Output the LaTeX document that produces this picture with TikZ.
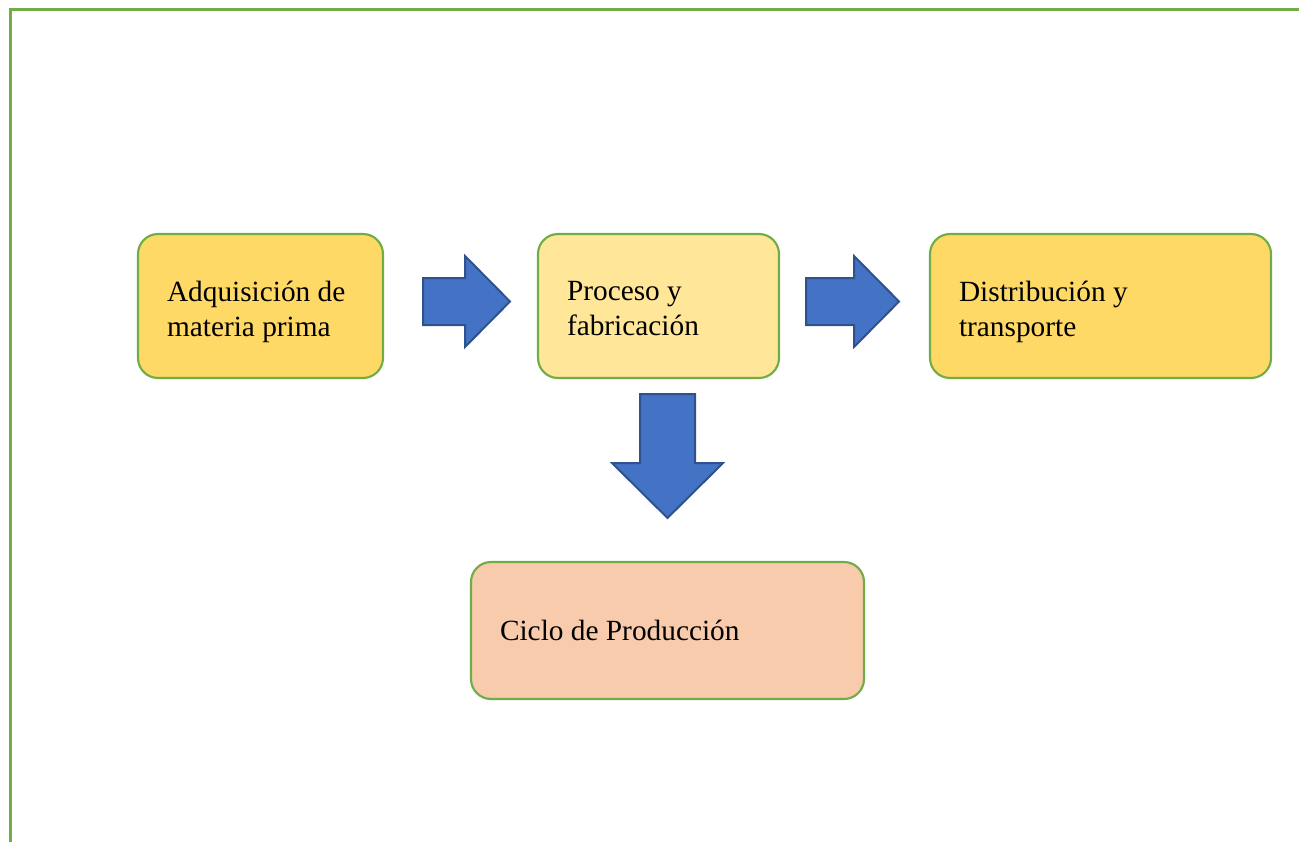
\documentclass[tikz,border=0pt]{standalone}
\usepackage{fontspec}
\setmainfont{Liberation Serif}
\definecolor{frameg}{HTML}{70AD47}
\definecolor{gold}{HTML}{FFD966}
\definecolor{lightgold}{HTML}{FFE699}
\definecolor{peach}{HTML}{F8CBAD}
\definecolor{arrowfill}{HTML}{4472C4}
\definecolor{arrowline}{HTML}{2F528F}
\tikzset{
  box/.style={draw=frameg, line width=1.6pt, rounded corners=15pt, align=flush left,
    inner xsep=21.75pt, inner ysep=0pt, font=\fontsize{22}{26.4}\selectfont},
  toprow/.style={text depth=22.5pt},
  blockarrow/.style={fill=arrowfill, draw=arrowline, line width=1.5pt, line join=miter},
  framestyle/.style={draw=frameg, line width=2.3pt}
}
\begin{document}
\begin{tikzpicture}[x=0.75pt, y=-0.75pt]
\useasboundingbox (0,0) rectangle (1299,842);
\draw[framestyle] (10.5,842) -- (10.5,9.5) -- (1299,9.5);

\node[box, toprow, fill=gold, minimum width=183.75pt, minimum height=108pt, text width=140.25pt] (a) at (260.5,306) {Adquisición de\\materia prima};
\node[box, toprow, fill=lightgold, minimum width=180.75pt, minimum height=108pt, text width=137.25pt] (b) at (658.5,306) {Proceso y\\fabricación};
\node[box, toprow, fill=gold, minimum width=255.75pt, minimum height=108pt, text width=212.25pt] (c) at (1100.5,306) {Distribución y\\transporte};
\node[box, text depth=0pt, fill=peach, minimum width=294.75pt, minimum height=102.75pt, text width=251.25pt] (d) at (667.5,630.5) {Ciclo de Producción};

% block arrows
\draw[blockarrow] (423,278) -- (465,278) -- (465,256) -- (510,301.5) -- (465,347) -- (465,325) -- (423,325) -- cycle;
\draw[blockarrow] (806,278) -- (854,278) -- (854,256) -- (899,301.5) -- (854,347) -- (854,325) -- (806,325) -- cycle;
\draw[blockarrow] (640,394) -- (695,394) -- (695,463) -- (723,463) -- (667.5,518) -- (612,463) -- (640,463) -- cycle;
\end{tikzpicture}
\end{document}
